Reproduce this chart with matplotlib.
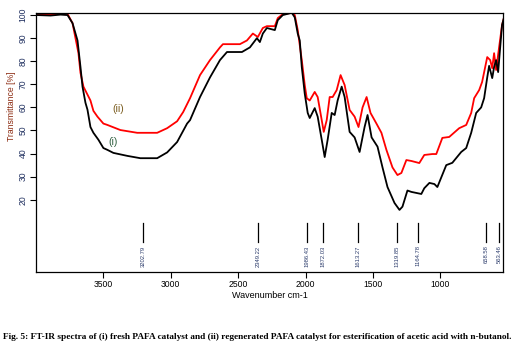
import matplotlib
matplotlib.use("Agg")
import matplotlib.pyplot as plt

# ---- data ----
wn_fresh = [3988, 3892, 3818, 3766, 3729, 3692, 3670, 3655, 3633, 3618, 3596, 3574, 3537, 3500,
            3470, 3426, 3322, 3226, 3101, 3027, 2953, 2879, 2857, 2783, 2709, 2635, 2583, 2472,
            2413, 2361, 2339, 2317, 2287, 2228, 2206, 2169, 2102, 2080, 2058, 2043, 2028, 2006,
            1984, 1969, 1932, 1910, 1880, 1858, 1836, 1806, 1784, 1762, 1732, 1710, 1673, 1636,
            1599, 1562, 1540, 1510, 1466, 1429, 1392, 1340, 1303, 1281, 1244, 1215, 1141, 1119,
            1081, 1044, 1022, 956, 911, 845, 808, 771, 734, 697, 675, 652, 638, 615, 601, 586,
            571, 556, 542, 527]
t_fresh = [100, 99.8, 100.2, 100, 96.5, 89, 77.5, 69, 62, 59, 51.5, 49, 46, 42.4,
           41.6, 40.3, 39, 38, 38, 40.5, 45, 53, 54.5, 64.5, 73, 80.5, 84, 84,
           86, 90, 88.3, 92, 94.4, 93.5, 97.8, 100, 101, 99, 92, 89, 77.5, 66,
           57.6, 55.4, 59.7, 56, 46, 38.5, 46, 57.6, 56.7, 63, 69, 64.5, 49.4, 47,
           40.7, 51.5, 56.7, 47, 43, 34, 25.5, 18.6, 15.6, 17, 24, 23.4, 22.5, 25,
           27.3, 26.8, 25.5, 35, 36, 40.7, 42.4, 49, 57.6, 60, 64, 73, 78, 72.7, 77.5, 80.5,
           75.3, 86, 95.7, 99]

wn_regen = [3988, 3892, 3818, 3766, 3729, 3685, 3670, 3648, 3596, 3574, 3544, 3500, 3470, 3374,
            3249, 3101, 3027, 2953, 2908, 2857, 2783, 2709, 2635, 2613, 2487, 2435, 2391, 2354,
            2317, 2287, 2228, 2206, 2169, 2102, 2080, 2058, 2028, 2006, 1991, 1969, 1932, 1910,
            1880, 1865, 1843, 1821, 1799, 1769, 1740, 1710, 1673, 1636, 1607, 1577, 1547, 1518,
            1474, 1437, 1400, 1355, 1318, 1289, 1252, 1215, 1156, 1119, 1059, 1030, 985, 934,
            860, 808, 771, 749, 712, 690, 652, 630, 615, 601, 586, 564, 542, 527]
t_regen = [100.5, 100.3, 100.6, 100.5, 96.5, 83.5, 75, 69, 63, 58.5, 56, 53, 52.4, 50.2,
           49, 49, 51, 54, 58, 64, 74, 80.5, 86, 87.4, 87.4, 89, 92, 90.5,
           94.4, 95.2, 95.2, 98.7, 100.4, 101, 100, 93.5, 80.5, 69.7, 64, 63, 66.7, 64.5,
           54.5, 49.4, 54.5, 64.5, 64.5, 67.5, 74, 69.7, 58.9, 56, 51.5, 60, 64.5, 57.6,
           53, 49, 41.6, 34, 30.7, 31.6, 37.2, 36.8, 35.9, 39.4, 39.8, 39.8, 46.8, 47.2,
           51, 52.4, 57.6, 64, 67.5, 71, 81.8, 80.5, 77, 83.5, 76.2, 86, 95.7, 99]

peak_positions = [3202.79, 2349.22, 1986.43, 1872.03, 1613.27, 1319.85, 1164.78, 658.58, 563.46]
peak_labels = ["3202.79", "2349.22", "1986.43", "1872.03", "1613.27", "1319.85", "1164.78",
               "658.58", "563.46"]

x_ticks = [3500, 3000, 2500, 2000, 1500, 1000]
y_ticks = [20, 30, 40, 50, 60, 70, 80, 90, 100]

caption = ("Fig. 5: FT-IR spectra of (i) fresh PAFA catalyst and (ii) regenerated PAFA "
           "catalyst for esterification of acetic acid with n-butanol.")

# ---- figure ----
fig = plt.figure(figsize=(5.26, 3.5), dpi=100)
ax = fig.add_axes([36 / 526, (350 - 272) / 350, (503 - 36) / 526, (272 - 13) / 350])

ax.plot(wn_fresh, t_fresh, color="black", lw=1.3, zorder=3)
ax.plot(wn_regen, t_regen, color="#ff0000", lw=1.3, zorder=2)

ax.set_xlim(4000, 535)
ax.set_ylim(-11.3, 100.9)

ax.set_xticks(x_ticks)
ax.set_xticklabels([str(v) for v in x_ticks], fontsize=6.2, family="Liberation Sans")
ax.set_yticks(y_ticks)
ax.set_yticklabels([str(v) for v in y_ticks], fontsize=6.2, family="Liberation Sans",
                   rotation=90, va="center", color="#1f2f5f")
ax.tick_params(axis="both", length=4, width=0.8, pad=2)

for sp in ax.spines.values():
    sp.set_linewidth(0.9)

ax.set_xlabel("Wavenumber cm-1", fontsize=6.5, family="Liberation Sans", labelpad=1)
ax.set_ylabel("Transmittance [%]", fontsize=6.2, family="Liberation Sans", color="#8b2a10",
              labelpad=2)
ax.yaxis.set_label_coords(-0.043, 0.64)

for p, lab in zip(peak_positions, peak_labels):
    ax.plot([p, p], [10, 1.7], color="black", lw=0.9)
    ax.text(p, 0.2, lab, rotation=90, ha="center", va="top", fontsize=4.2,
            family="Liberation Sans", color="#2b3b6b")

ax.text(3389, 59.5, "(ii)", fontsize=7.5, family="Liberation Sans", color="#7a5c1e",
        ha="center", va="center")
ax.text(3426, 45, "(i)", fontsize=7.5, family="Liberation Sans", color="#2e5e3e",
        ha="center", va="center")

fig.text(3 / 526, 13 / 350, caption, fontsize=6.7, family="Liberation Serif",
         fontweight="bold", ha="left", va="center")

fig.savefig("out.png", dpi=100)
